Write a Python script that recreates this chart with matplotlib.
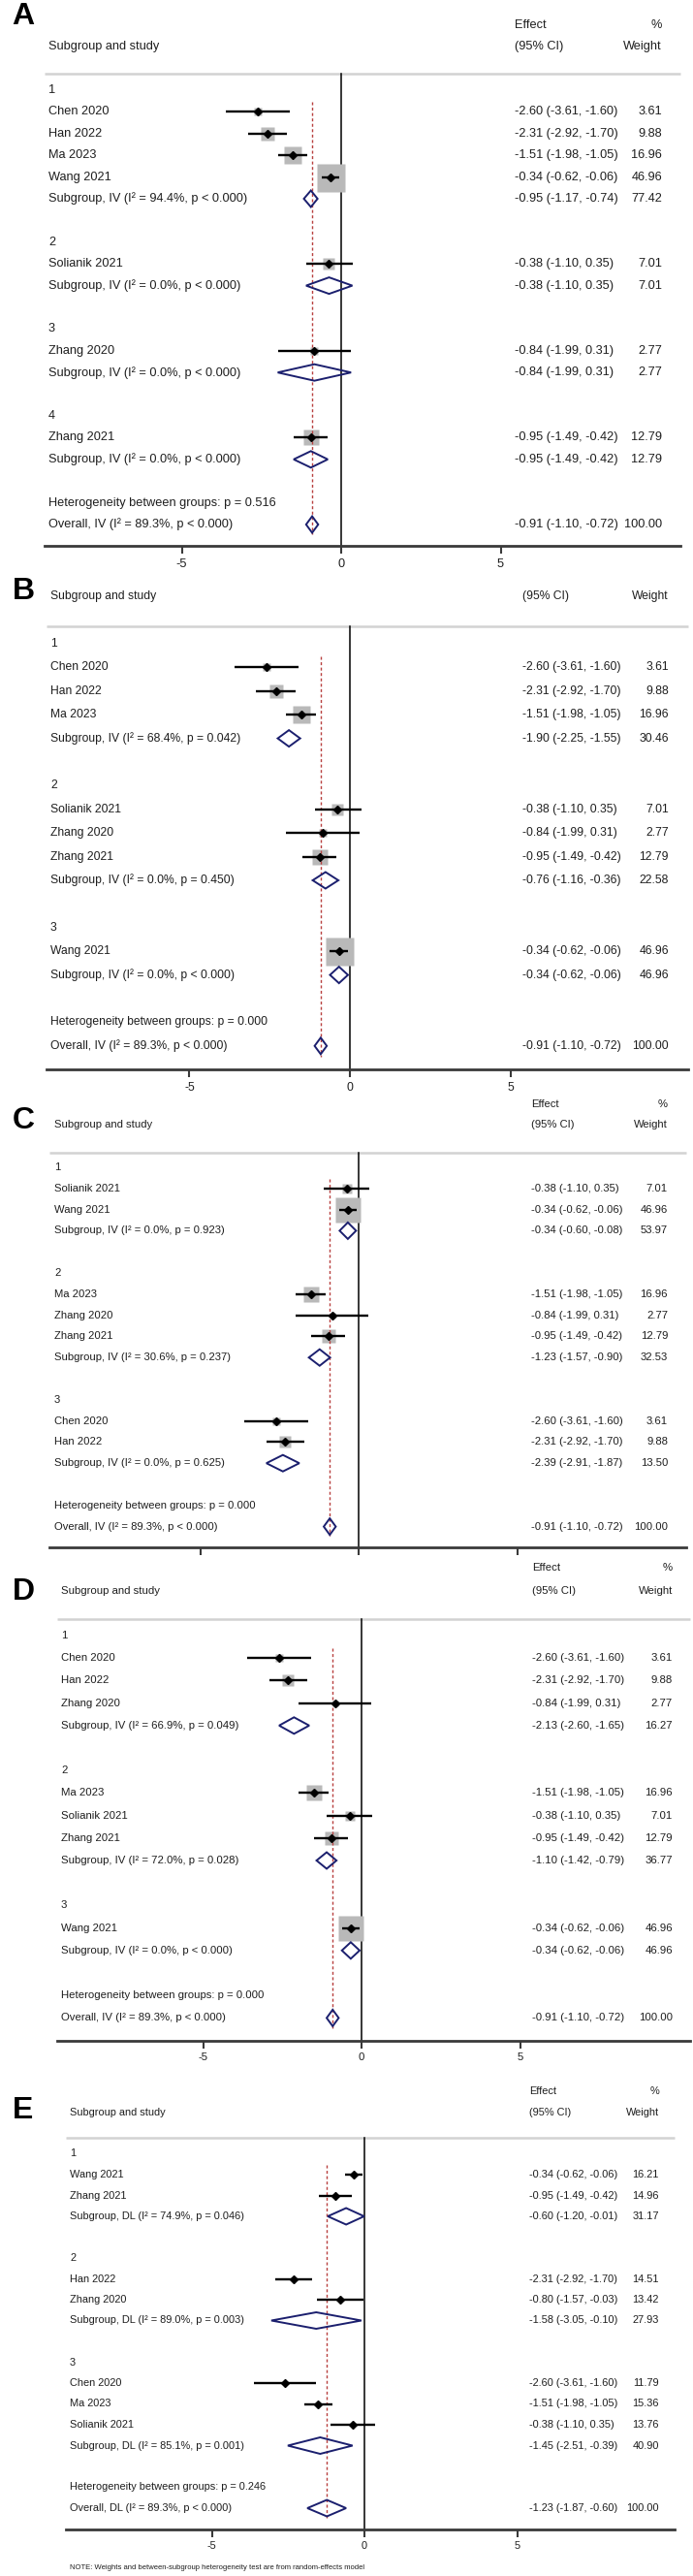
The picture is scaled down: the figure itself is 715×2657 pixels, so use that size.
import matplotlib
matplotlib.use('Agg')
import matplotlib.pyplot as plt
from matplotlib.patches import Polygon
import numpy as np

plt.rcParams['font.family'] = ['Liberation Sans', 'DejaVu Sans']
plt.rcParams['axes.unicode_minus'] = False

# ---------------------------------------------------------------------------
# study level results (inverse variance, panels A-D)
# ---------------------------------------------------------------------------
studies = ['Chen 2020', 'Han 2022', 'Ma 2023', 'Wang 2021', 'Solianik 2021', 'Zhang 2020', 'Zhang 2021']
est = [-2.60, -2.31, -1.51, -0.34, -0.38, -0.84, -0.95]
lo = [-3.61, -2.92, -1.98, -0.62, -1.10, -1.99, -1.49]
hi = [-1.60, -1.70, -1.05, -0.06, 0.35, 0.31, -0.42]
wt = [3.61, 9.88, 16.96, 46.96, 7.01, 2.77, 12.79]

# random effects (panel E)
e_studies = ['Wang 2021', 'Zhang 2021', 'Han 2022', 'Zhang 2020', 'Chen 2020', 'Ma 2023', 'Solianik 2021']
e_est = [-0.34, -0.95, -2.31, -0.80, -2.60, -1.51, -0.38]
e_lo = [-0.62, -1.49, -2.92, -1.57, -3.61, -1.98, -1.10]
e_hi = [-0.06, -0.42, -1.70, -0.03, -1.60, -1.05, 0.35]
e_wt = [16.21, 14.96, 14.51, 13.42, 11.79, 15.36, 13.76]

# ---------------------------------------------------------------------------
# subgroups for each panel
# ---------------------------------------------------------------------------
a_groups = [['Chen 2020', 'Han 2022', 'Ma 2023', 'Wang 2021'], ['Solianik 2021'], ['Zhang 2020'], ['Zhang 2021']]
a_sub_est = [-0.95, -0.38, -0.84, -0.95]
a_sub_lo = [-1.17, -1.10, -1.99, -1.49]
a_sub_hi = [-0.74, 0.35, 0.31, -0.42]
a_sub_wt = [77.42, 7.01, 2.77, 12.79]
a_sub_i2 = ['94.4%', '0.0%', '0.0%', '0.0%']
a_sub_p = ['p < 0.000', 'p < 0.000', 'p < 0.000', 'p < 0.000']
a_het = 'p = 0.516'

b_groups = [['Chen 2020', 'Han 2022', 'Ma 2023'], ['Solianik 2021', 'Zhang 2020', 'Zhang 2021'], ['Wang 2021']]
b_sub_est = [-1.90, -0.76, -0.34]
b_sub_lo = [-2.25, -1.16, -0.62]
b_sub_hi = [-1.55, -0.36, -0.06]
b_sub_wt = [30.46, 22.58, 46.96]
b_sub_i2 = ['68.4%', '0.0%', '0.0%']
b_sub_p = ['p = 0.042', 'p = 0.450', 'p < 0.000']
b_het = 'p = 0.000'

c_groups = [['Solianik 2021', 'Wang 2021'], ['Ma 2023', 'Zhang 2020', 'Zhang 2021'], ['Chen 2020', 'Han 2022']]
c_sub_est = [-0.34, -1.23, -2.39]
c_sub_lo = [-0.60, -1.57, -2.91]
c_sub_hi = [-0.08, -0.90, -1.87]
c_sub_wt = [53.97, 32.53, 13.50]
c_sub_i2 = ['0.0%', '30.6%', '0.0%']
c_sub_p = ['p = 0.923', 'p = 0.237', 'p = 0.625']
c_het = 'p = 0.000'

d_groups = [['Chen 2020', 'Han 2022', 'Zhang 2020'], ['Ma 2023', 'Solianik 2021', 'Zhang 2021'], ['Wang 2021']]
d_sub_est = [-2.13, -1.10, -0.34]
d_sub_lo = [-2.60, -1.42, -0.62]
d_sub_hi = [-1.65, -0.79, -0.06]
d_sub_wt = [16.27, 36.77, 46.96]
d_sub_i2 = ['66.9%', '72.0%', '0.0%']
d_sub_p = ['p = 0.049', 'p = 0.028', 'p < 0.000']
d_het = 'p = 0.000'

e_groups = [['Wang 2021', 'Zhang 2021'], ['Han 2022', 'Zhang 2020'], ['Chen 2020', 'Ma 2023', 'Solianik 2021']]
e_sub_est = [-0.60, -1.58, -1.45]
e_sub_lo = [-1.20, -3.05, -2.51]
e_sub_hi = [-0.01, -0.10, -0.39]
e_sub_wt = [31.17, 27.93, 40.90]
e_sub_i2 = ['74.9%', '89.0%', '85.1%']
e_sub_p = ['p = 0.046', 'p = 0.003', 'p = 0.001']
e_het = 'p = 0.246'

# overall pooled results
iv_overall = [-0.91, -1.10, -0.72, 100.00]
dl_overall = [-1.23, -1.87, -0.60, 100.00]
overall_i2 = '89.3%'
overall_p = 'p < 0.000'

W, H = 715, 2657
NAVY = '#1b1f6e'
RED = '#b8403f'
BOX = '#b9b9b9'
TXT = '#1e1e1e'


def fmt_ci(e, l, h):
    return '%.2f (%.2f, %.2f)' % (e, l, h)


def draw_panel(fig, letter, lay, groups, names, s_est, s_lo, s_hi, s_wt,
               g_est, g_lo, g_hi, g_wt, g_i2, g_p, het, overall, model, boxes=True,
               effect_row=True, ticklabels=True):
    x0, ppu, xl, xr = lay['x0'], lay['ppu'], lay['xl'], lay['xr']
    y0, sp, fs = lay['y0'], lay['sp'], lay['fs']

    # count rows to know where the x axis goes
    n_rows = sum(len(g) + 3 for g in groups) + 2
    axis_row = n_rows
    top_row = -3.6
    bottom_px = y0 + sp * axis_row
    top_px = y0 + sp * top_row

    ax = fig.add_axes([xl / W, 1 - bottom_px / H, (xr - xl) / W, (bottom_px - top_px) / H])
    ax.set_facecolor('none')
    ax.set_xlim((xl - x0) / ppu, (xr - x0) / ppu)
    ax.set_ylim(axis_row, top_row)
    for s in ['top', 'left', 'right']:
        ax.spines[s].set_visible(False)
    ax.spines['bottom'].set_color('#3a3a3a')
    ax.spines['bottom'].set_linewidth(2.0)
    ax.set_yticks([])
    ax.set_xticks([-5, 0, 5])
    ax.tick_params(axis='x', direction='out', length=6, width=1.5, color='#3a3a3a',
                   labelsize=fs, labelcolor=TXT, pad=3, labelbottom=ticklabels)

    name_x = (lay['name_x'] - x0) / ppu
    ci_x = (lay['ci_x'] - x0) / ppu
    wt_x = (lay['wt_x'] - x0) / ppu

    # header
    if effect_row:
        ax.text(ci_x, -3, 'Effect', fontsize=fs, va='center', ha='left', color=TXT)
        ax.text(wt_x, -3, '%', fontsize=fs, va='center', ha='right', color=TXT)
    ax.text(name_x, -2, 'Subgroup and study', fontsize=fs, va='center', color=TXT)
    ax.text(ci_x, -2, '(95% CI)', fontsize=fs, va='center', ha='left', color=TXT)
    ax.text(wt_x, -2, 'Weight', fontsize=fs, va='center', ha='right', color=TXT)
    hrow = (lay['hline_y'] - y0) / sp
    ax.plot([(xl - x0) / ppu, (xr - x0) / ppu], [hrow, hrow], color='#d2d2d2', lw=1.8,
            clip_on=False, solid_capstyle='butt')

    # no-effect line and pooled estimate line
    ax.plot([0, 0], [hrow, axis_row], color='black', lw=1.1, zorder=2)
    overall_row = n_rows - 1
    ax.plot([overall[0], overall[0]], [0.55, overall_row + 0.45], color=RED, lw=1.0,
            ls=(0, (2.2, 1.8)), zorder=3)

    dh = 8.5 / sp
    r = 0
    for k, g in enumerate(groups):
        ax.text(name_x, r, str(k + 1), fontsize=fs, va='center', color=TXT)
        r += 1
        for nm in g:
            i = names.index(nm)
            if boxes:
                side = lay['box'] * np.sqrt(s_wt[i] / 46.96) * 0.72
                ax.plot(s_est[i], r, marker='s', ms=side, color=BOX, mec='none', zorder=2)
            ax.plot([s_lo[i], s_hi[i]], [r, r], color='black', lw=1.7, zorder=4,
                    solid_capstyle='butt')
            ax.plot(s_est[i], r, marker='D', ms=4.2, color='black', zorder=5)
            ax.text(name_x, r, nm, fontsize=fs, va='center', color=TXT)
            ax.text(ci_x, r, fmt_ci(s_est[i], s_lo[i], s_hi[i]), fontsize=fs, va='center', color=TXT)
            ax.text(wt_x, r, '%.2f' % s_wt[i], fontsize=fs, va='center', ha='right', color=TXT)
            r += 1
        dia = Polygon([(g_lo[k], r), (g_est[k], r - dh), (g_hi[k], r), (g_est[k], r + dh)],
                      closed=True, fc='none', ec=NAVY, lw=1.4, zorder=6)
        ax.add_patch(dia)
        ax.text(name_x, r, 'Subgroup, %s (I² = %s, %s)' % (model, g_i2[k], g_p[k]),
                fontsize=fs, va='center', color=TXT)
        ax.text(ci_x, r, fmt_ci(g_est[k], g_lo[k], g_hi[k]), fontsize=fs, va='center', color=TXT)
        ax.text(wt_x, r, '%.2f' % g_wt[k], fontsize=fs, va='center', ha='right', color=TXT)
        r += 2

    ax.text(name_x, r, 'Heterogeneity between groups: ' + het, fontsize=fs, va='center', color=TXT)
    r += 1
    dia = Polygon([(overall[1], r), (overall[0], r - dh), (overall[2], r), (overall[0], r + dh)],
                  closed=True, fc='none', ec=NAVY, lw=1.4, zorder=6)
    ax.add_patch(dia)
    ax.text(name_x, r, 'Overall, %s (I² = %s, %s)' % (model, overall_i2, overall_p),
            fontsize=fs, va='center', color=TXT)
    ax.text(ci_x, r, fmt_ci(overall[0], overall[1], overall[2]), fontsize=fs, va='center', color=TXT)
    ax.text(wt_x, r, '%.2f' % overall[3], fontsize=fs, va='center', ha='right', color=TXT)

    # panel letter
    fig.text(24 / W, 1 - lay['letter_y'] / H, letter, fontsize=23, fontweight='bold',
             ha='center', va='center', color='black')
    return ax


# pixel layout of each sub-figure
lay_a = dict(x0=352, ppu=32.9, xl=46, xr=702, y0=93, sp=22.4, hline_y=76, fs=9.2,
             name_x=50, ci_x=531, wt_x=683, letter_y=17, box=29)
lay_b = dict(x0=361, ppu=33.1, xl=48, xr=710, y0=664, sp=24.4, hline_y=646, fs=8.7,
             name_x=52, ci_x=539, wt_x=690, letter_y=610, box=29)
lay_c = dict(x0=370, ppu=32.7, xl=51, xr=708, y0=1204, sp=21.8, hline_y=1189, fs=8.1,
             name_x=56, ci_x=548, wt_x=689, letter_y=1156, box=27)
lay_d = dict(x0=373, ppu=32.7, xl=59, xr=712, y0=1687, sp=23.2, hline_y=1670, fs=8.2,
             name_x=63, ci_x=549, wt_x=694, letter_y=1642, box=27)
lay_e = dict(x0=376, ppu=31.5, xl=68, xr=696, y0=2221.5, sp=21.5, hline_y=2205, fs=7.9,
             name_x=72, ci_x=546, wt_x=680, letter_y=2177, box=27)

fig = plt.figure(figsize=(W / 100, H / 100), dpi=100)
fig.patch.set_facecolor('white')

draw_panel(fig, 'A', lay_a, a_groups, studies, est, lo, hi, wt,
           a_sub_est, a_sub_lo, a_sub_hi, a_sub_wt, a_sub_i2, a_sub_p, a_het, iv_overall, 'IV')
draw_panel(fig, 'B', lay_b, b_groups, studies, est, lo, hi, wt,
           b_sub_est, b_sub_lo, b_sub_hi, b_sub_wt, b_sub_i2, b_sub_p, b_het, iv_overall, 'IV',
           effect_row=False)
draw_panel(fig, 'C', lay_c, c_groups, studies, est, lo, hi, wt,
           c_sub_est, c_sub_lo, c_sub_hi, c_sub_wt, c_sub_i2, c_sub_p, c_het, iv_overall, 'IV',
           ticklabels=False)
draw_panel(fig, 'D', lay_d, d_groups, studies, est, lo, hi, wt,
           d_sub_est, d_sub_lo, d_sub_hi, d_sub_wt, d_sub_i2, d_sub_p, d_het, iv_overall, 'IV')
draw_panel(fig, 'E', lay_e, e_groups, e_studies, e_est, e_lo, e_hi, e_wt,
           e_sub_est, e_sub_lo, e_sub_hi, e_sub_wt, e_sub_i2, e_sub_p, e_het, dl_overall, 'DL',
           boxes=False)

fig.text(72 / W, 1 - 2648 / H,
         'NOTE: Weights and between-subgroup heterogeneity test are from random-effects model',
         fontsize=5.5, va='center', color=TXT)

fig.savefig('out.png', dpi=100, facecolor='white')
